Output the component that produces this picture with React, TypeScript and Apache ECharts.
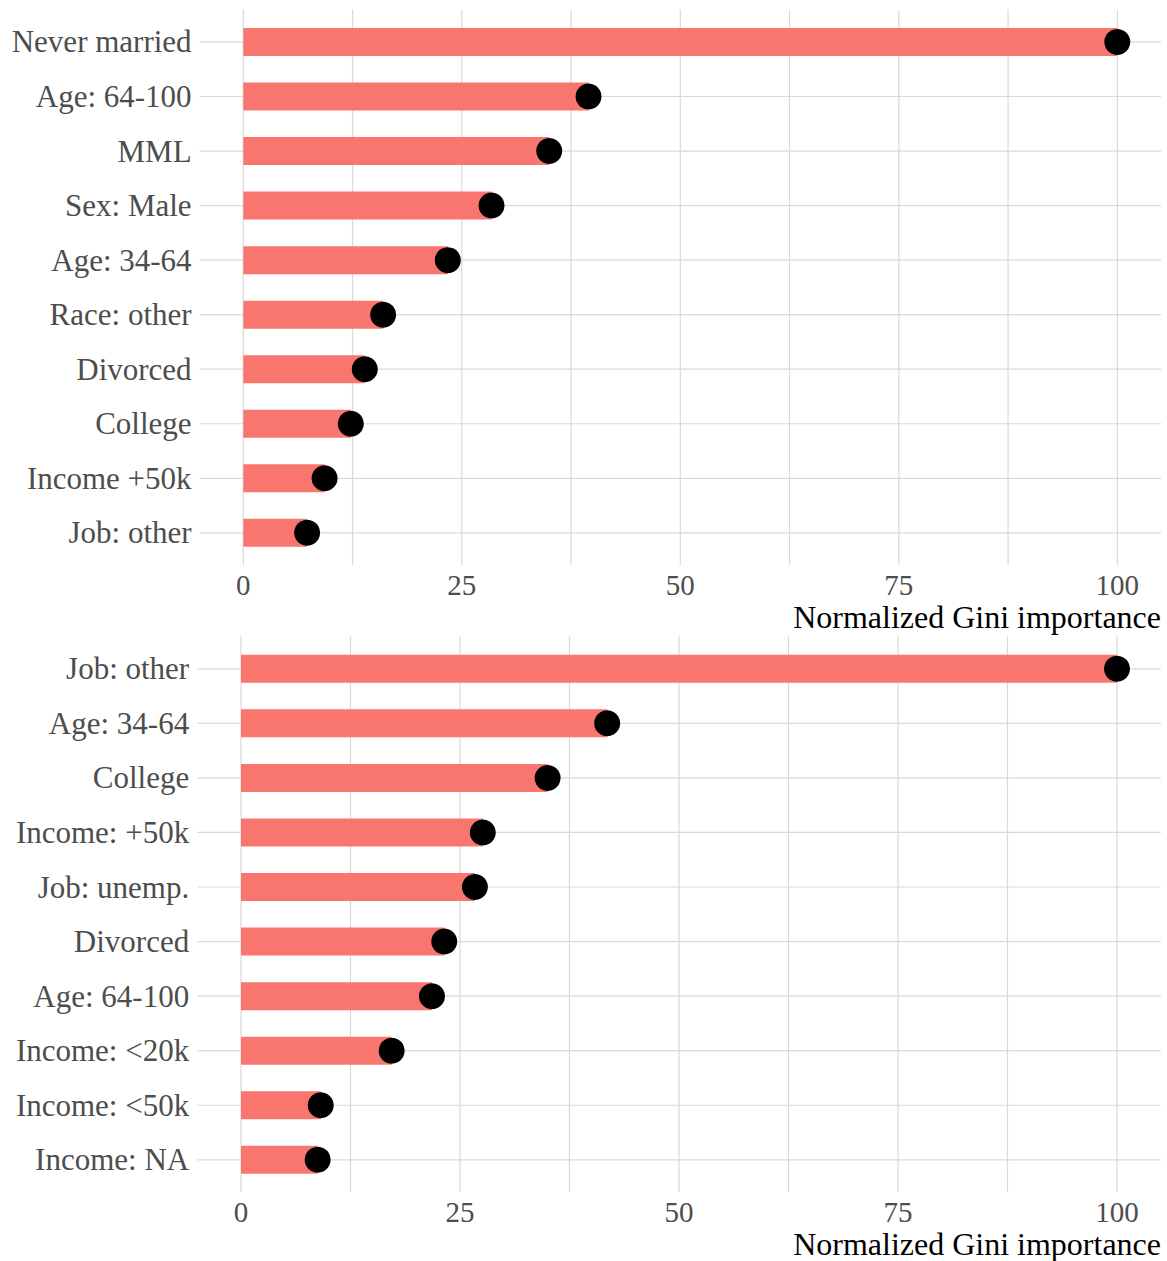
import React, { useEffect, useRef } from "react";
import * as echarts from "echarts";

const topCategories = ["Never married", "Age: 64-100", "MML", "Sex: Male", "Age: 34-64", "Race: other", "Divorced", "College", "Income +50k", "Job: other"];
const topValues = [100, 39.5, 35.0, 28.4, 23.4, 16.0, 13.9, 12.3, 9.3, 7.3];

const bottomCategories = ["Job: other", "Age: 34-64", "College", "Income: +50k", "Job: unemp.", "Divorced", "Age: 64-100", "Income: <20k", "Income: <50k", "Income: NA"];
const bottomValues = [100, 41.8, 35.0, 27.6, 26.7, 23.2, 21.8, 17.2, 9.1, 8.75];

const tickLabels = [0, 25, 50, 75, 100];
const gridLinesX = [0, 12.5, 25, 37.5, 50, 62.5, 75, 87.5, 100];
const axisTitle = "Normalized Gini importance";

const FONT = "'Liberation Serif', 'Times New Roman', serif";
const GRID_COLOR = "#d9d9d9";
const BAR_COLOR = "#F8766D";

export default function App() {
  const ref = useRef<HTMLDivElement>(null);
  useEffect(() => {
    if (!ref.current) return;
    const chart = echarts.init(ref.current, null, { renderer: "svg" });

    const panels = [
      { cats: topCategories, vals: topValues, left: 199.6, width: 961.4, top: 14.7, height: 545.4, titleY: 617 },
      { cats: bottomCategories, vals: bottomValues, left: 197.2, width: 963.6, top: 641.5, height: 545.6, titleY: 1244 },
    ];

    const grid: any[] = [];
    const xAxis: any[] = [];
    const yAxis: any[] = [];
    const series: any[] = [];
    const graphic: any[] = [];

    panels.forEach((p, i) => {
      grid.push({ left: p.left, width: p.width, top: p.top, height: p.height, containLabel: false });
      xAxis.push({
        type: "value",
        gridIndex: i,
        min: -5,
        max: 105,
        axisLine: { show: false },
        axisTick: { show: false },
        splitLine: { show: false },
        axisLabel: {
          customValues: tickLabels,
          color: "#4d4d4d",
          fontSize: 29,
          fontFamily: FONT,
          margin: 10,
          lineHeight: 29,
        },
      });
      yAxis.push({
        type: "category",
        gridIndex: i,
        data: p.cats,
        inverse: true,
        axisLine: { show: false },
        axisTick: { show: false },
        splitLine: { show: false },
        axisLabel: { color: "#4d4d4d", fontSize: 31, fontFamily: FONT, margin: 8 },
      });
      // vertical gridlines
      series.push({
        type: "custom",
        xAxisIndex: i,
        yAxisIndex: i,
        clip: false,
        silent: true,
        z: 0,
        encode: { x: 0, y: 1 },
        data: gridLinesX.map((v) => [v, p.cats[0]]),
        renderItem: (params: any, api: any) => {
          const cs = params.coordSys;
          const x = api.coord([api.value(0), 0])[0];
          return {
            type: "line",
            shape: { x1: x, y1: cs.y - 5.2, x2: x, y2: cs.y + cs.height + 5.2 },
            style: { stroke: GRID_COLOR, lineWidth: 1.2 },
          };
        },
      });
      // horizontal gridlines
      series.push({
        type: "custom",
        xAxisIndex: i,
        yAxisIndex: i,
        clip: false,
        silent: true,
        z: 0,
        encode: { x: 0, y: 1 },
        data: p.cats.map((c) => [0, c]),
        renderItem: (params: any, api: any) => {
          const cs = params.coordSys;
          const y = api.coord([0, api.value(1)])[1];
          return {
            type: "line",
            shape: { x1: cs.x, y1: y, x2: cs.x + cs.width, y2: y },
            style: { stroke: GRID_COLOR, lineWidth: 1.2 },
          };
        },
      });
      series.push({
        type: "bar",
        xAxisIndex: i,
        yAxisIndex: i,
        data: p.vals,
        barWidth: 28,
        itemStyle: { color: BAR_COLOR },
        z: 2,
        silent: true,
      });
      series.push({
        type: "scatter",
        xAxisIndex: i,
        yAxisIndex: i,
        data: p.vals,
        symbol: "circle",
        symbolSize: 26,
        itemStyle: { color: "#000000", opacity: 1 },
        z: 3,
        silent: true,
      });
      graphic.push({
        type: "text",
        x: 1161,
        y: p.titleY,
        style: {
          text: axisTitle,
          fill: "#000000",
          fontSize: 32,
          fontFamily: FONT,
          textAlign: "right",
          textVerticalAlign: "middle",
        },
      });
    });

    chart.setOption({
      animation: false,
      backgroundColor: "#ffffff",
      grid,
      xAxis,
      yAxis,
      series,
      graphic,
    });
    return () => chart.dispose();
  }, []);
  return <div ref={ref} style={{ position: "absolute", left: 0, top: 0, width: 1167, height: 1261 }} />;
}
